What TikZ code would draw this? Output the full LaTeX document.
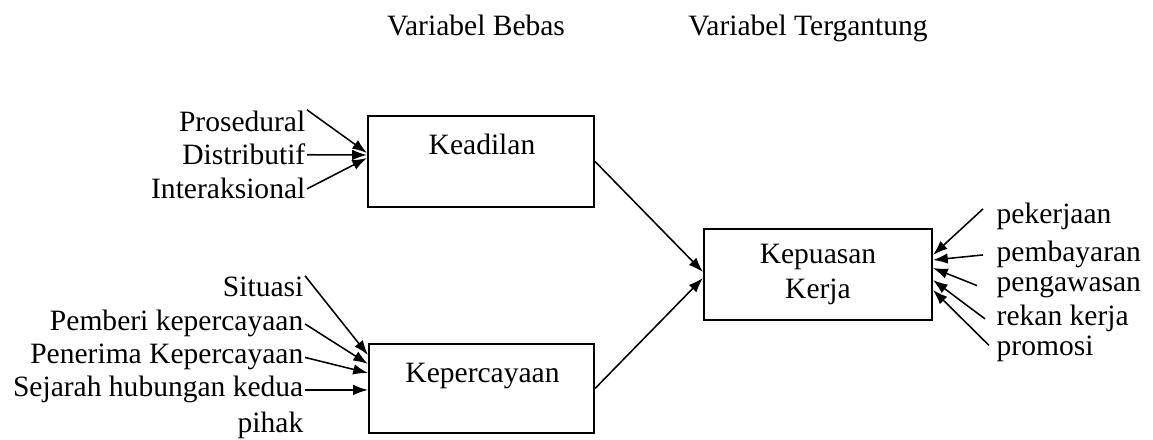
\documentclass[tikz,border=0pt]{standalone}
\usepackage{fontspec}
\setmainfont{Liberation Serif}
\usetikzlibrary{arrows.meta,calc}

\begin{document}
\begin{tikzpicture}[x=0.025cm,y=0.025cm,
        font=\fontsize{21}{24.9}\selectfont,
        box/.style={draw,line width=1.4pt,inner sep=0pt},
        lbl/.style={inner sep=1pt},
        arr/.style={line width=1.1pt,-{Latex[length=10.5pt,width=7.5pt]}}]
        \useasboundingbox (0,0) rectangle (1153,440);
        %% Headings
        \node[anchor=base] (bebas) at (476,404) {Variabel Bebas};
        \node[anchor=base] (tergantung) at (808,404) {Variabel Tergantung};
        %% Boxes
        \node[box,minimum width=5.65cm,minimum height=2.275cm] (keadilan) at (481,278.5) {};
        \node[anchor=base] (keadilantxt) at (482,285) {Keadilan};
        \node[box,minimum width=5.625cm,minimum height=2.225cm] (kepercayaan) at (481.5,51.5) {};
        \node[anchor=base] (kepercayaantxt) at (482.5,57) {Kepercayaan};
        \node[box,align=center,minimum width=5.7cm,minimum height=2.275cm] (kepuasan) at (818,165.5) {Kepuasan\\Kerja};
        %% Keadilan inputs
        \node[lbl,anchor=base east] (prosedural) at (307,308) {Prosedural};
        \node[lbl,anchor=base east] (distributif) at (307,275) {Distributif};
        \node[lbl,anchor=base east] (interaksional) at (307,241) {Interaksional};
        \draw[arr] (prosedural.north east) -- ($(keadilan.west)+(0,8.5)$);
        \draw[arr] (distributif.east) -- ($(keadilan.west)+(0,6.5)$);
        \draw[arr] (interaksional.east) -- ($(keadilan.west)+(0,3.5)$);
        %% Kepercayaan inputs
        \node[lbl,anchor=base east] (situasi) at (305,143) {Situasi};
        \node[lbl,anchor=base east] (pemberi) at (305,109) {Pemberi kepercayaan};
        \node[lbl,anchor=base east] (penerima) at (305,76) {Penerima Kepercayaan};
        \node[lbl,anchor=base east] (sejarah) at (305,43) {Sejarah hubungan kedua};
        \node[lbl,anchor=base east] (pihak) at (305,7) {pihak};
        \draw[arr] (situasi.north east) -- ($(kepercayaan.west)+(0,33.5)$);
        \draw[arr] (pemberi.east) -- ($(kepercayaan.west)+(0,24.5)$);
        \draw[arr] (penerima.east) -- ($(kepercayaan.west)+(0,15.5)$);
        \draw[arr] (sejarah.east) -- (sejarah.east -| kepercayaan.west);
        %% Into Kepuasan Kerja
        \draw[arr] (keadilan.east) -- ($(kepuasan.west)+(0,2.5)$);
        \draw[arr] (kepercayaan.east) -- ($(kepuasan.west)+(0,-3.5)$);
        %% Kepuasan Kerja inputs
        \node[lbl,anchor=base west] (pekerjaan) at (995,216) {pekerjaan};
        \node[lbl,anchor=base west] (pembayaran) at (995,178) {pembayaran};
        \node[lbl,anchor=base west] (pengawasan) at (995,148) {pengawasan};
        \node[lbl,anchor=base west] (rekan) at (995,114) {rekan kerja};
        \node[lbl,anchor=base west] (promosi) at (995,84) {promosi};
        \draw[arr] ($(pekerjaan.west)+(-12,8)$) -- ($(kepuasan.east)+(0,19.5)$);
        \draw[arr] ($(pembayaran.west)+(-12,0)$) -- ($(kepuasan.east)+(0,14.5)$);
        \draw[arr] ($(pengawasan.west)+(-18,2)$) -- ($(kepuasan.east)+(0,6.5)$);
        \draw[arr] ($(rekan.west)+(-10,0)$) -- ($(kepuasan.east)+(0,-5.5)$);
        \draw[arr] ($(promosi.west)+(-6,4)$) -- ($(kepuasan.east)+(0,-15.5)$);
    \end{tikzpicture}
\end{document}
